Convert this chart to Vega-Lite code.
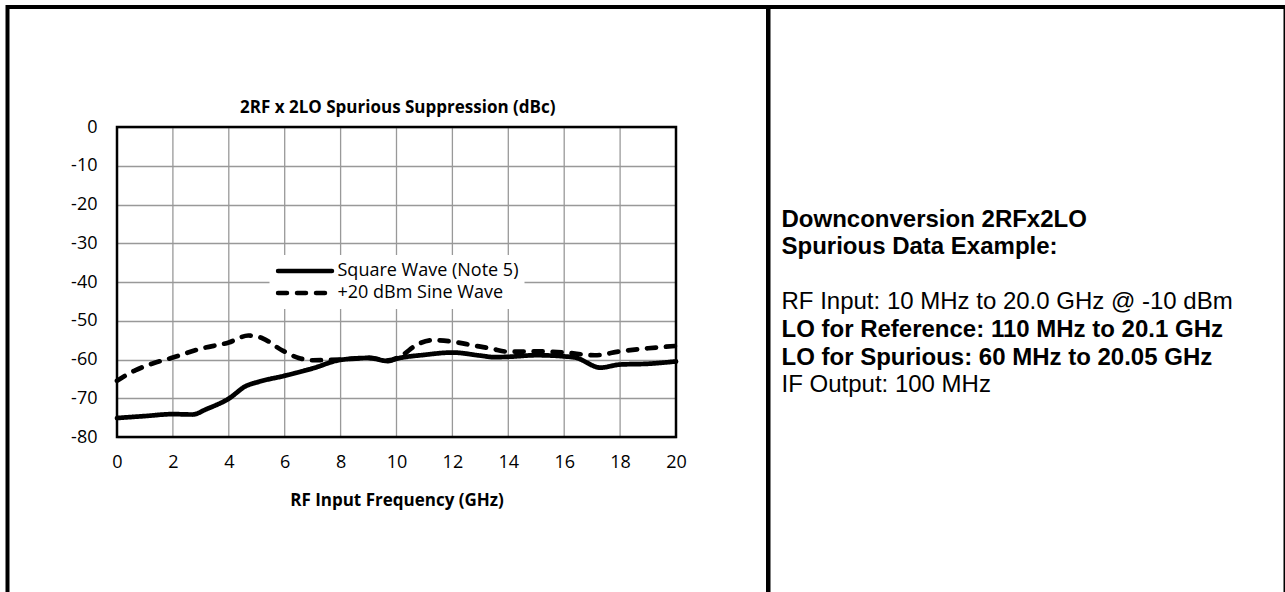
{
  "$schema": "https://vega.github.io/schema/vega-lite/v6.json",
  "padding": {"left": 5.5, "top": 5, "right": 0, "bottom": 0},
  "background": "white",
  "bounds": "flush",
  "spacing": 0,
  "config": {
    "view": {"stroke": "black", "strokeWidth": 4},
    "font": "Open Sans"
  },
  "hconcat": [
    {
      "width": 760.5,
      "height": 588,
      "title": {
        "text": "2RF x 2LO Spurious Suppression (dBc)",
        "font": "Open Sans",
        "fontSize": 17,
        "fontWeight": "bold",
        "color": "black",
        "anchor": "middle",
        "frame": "group",
        "baseline": "middle",
        "offset": -118,
        "dx": 10
      },
      "layer": [
        {
          "data": {
            "values": [
              {"g": 0}, {"g": 2}, {"g": 4}, {"g": 6}, {"g": 8}, {"g": 10},
              {"g": 12}, {"g": 14}, {"g": 16}, {"g": 18}, {"g": 20}
            ]
          },
          "mark": {"type": "rule", "color": "#999999", "strokeWidth": 1.3},
          "encoding": {
            "x": {"field": "g", "type": "quantitative"},
            "y": {"datum": -80, "type": "quantitative"},
            "y2": {"datum": 0}
          }
        },
        {
          "data": {
            "values": [
              {"series": "Square Wave (Note 5)", "freq": 0, "db": -75.1},
              {"series": "Square Wave (Note 5)", "freq": 1, "db": -74.6},
              {"series": "Square Wave (Note 5)", "freq": 2, "db": -74.1},
              {"series": "Square Wave (Note 5)", "freq": 2.7, "db": -74.2},
              {"series": "Square Wave (Note 5)", "freq": 3.2, "db": -72.8},
              {"series": "Square Wave (Note 5)", "freq": 4, "db": -70.1},
              {"series": "Square Wave (Note 5)", "freq": 4.6, "db": -66.9},
              {"series": "Square Wave (Note 5)", "freq": 5.1, "db": -65.7},
              {"series": "Square Wave (Note 5)", "freq": 6, "db": -64.2},
              {"series": "Square Wave (Note 5)", "freq": 7, "db": -62.3},
              {"series": "Square Wave (Note 5)", "freq": 8, "db": -60.1},
              {"series": "Square Wave (Note 5)", "freq": 9, "db": -59.6},
              {"series": "Square Wave (Note 5)", "freq": 9.7, "db": -60.4},
              {"series": "Square Wave (Note 5)", "freq": 10, "db": -59.8},
              {"series": "Square Wave (Note 5)", "freq": 11, "db": -58.8},
              {"series": "Square Wave (Note 5)", "freq": 12, "db": -58.2},
              {"series": "Square Wave (Note 5)", "freq": 13, "db": -59.0},
              {"series": "Square Wave (Note 5)", "freq": 13.5, "db": -59.4},
              {"series": "Square Wave (Note 5)", "freq": 14, "db": -59.3},
              {"series": "Square Wave (Note 5)", "freq": 15, "db": -58.9},
              {"series": "Square Wave (Note 5)", "freq": 16, "db": -59.2},
              {"series": "Square Wave (Note 5)", "freq": 16.4, "db": -59.5},
              {"series": "Square Wave (Note 5)", "freq": 17.3, "db": -62.1},
              {"series": "Square Wave (Note 5)", "freq": 18, "db": -61.3},
              {"series": "Square Wave (Note 5)", "freq": 19, "db": -61.1},
              {"series": "Square Wave (Note 5)", "freq": 20, "db": -60.5},
              {"series": "+20 dBm Sine Wave", "freq": 0, "db": -65.5},
              {"series": "+20 dBm Sine Wave", "freq": 0.65, "db": -62.8},
              {"series": "+20 dBm Sine Wave", "freq": 1.25, "db": -61.1},
              {"series": "+20 dBm Sine Wave", "freq": 2, "db": -59.5},
              {"series": "+20 dBm Sine Wave", "freq": 3, "db": -57.2},
              {"series": "+20 dBm Sine Wave", "freq": 4, "db": -55.6},
              {"series": "+20 dBm Sine Wave", "freq": 4.7, "db": -53.8},
              {"series": "+20 dBm Sine Wave", "freq": 5.2, "db": -54.5},
              {"series": "+20 dBm Sine Wave", "freq": 5.9, "db": -57.6},
              {"series": "+20 dBm Sine Wave", "freq": 6.5, "db": -59.6},
              {"series": "+20 dBm Sine Wave", "freq": 7, "db": -60.2},
              {"series": "+20 dBm Sine Wave", "freq": 8, "db": -60.0},
              {"series": "+20 dBm Sine Wave", "freq": 9, "db": -59.6},
              {"series": "+20 dBm Sine Wave", "freq": 9.7, "db": -60.2},
              {"series": "+20 dBm Sine Wave", "freq": 10.2, "db": -58.9},
              {"series": "+20 dBm Sine Wave", "freq": 10.7, "db": -56.3},
              {"series": "+20 dBm Sine Wave", "freq": 11.3, "db": -55.0},
              {"series": "+20 dBm Sine Wave", "freq": 12, "db": -55.4},
              {"series": "+20 dBm Sine Wave", "freq": 12.7, "db": -56.3},
              {"series": "+20 dBm Sine Wave", "freq": 13.4, "db": -57.2},
              {"series": "+20 dBm Sine Wave", "freq": 14, "db": -58.0},
              {"series": "+20 dBm Sine Wave", "freq": 15, "db": -57.9},
              {"series": "+20 dBm Sine Wave", "freq": 16, "db": -58.2},
              {"series": "+20 dBm Sine Wave", "freq": 17.1, "db": -58.9},
              {"series": "+20 dBm Sine Wave", "freq": 18, "db": -57.9},
              {"series": "+20 dBm Sine Wave", "freq": 19, "db": -57.1},
              {"series": "+20 dBm Sine Wave", "freq": 20, "db": -56.5}
            ]
          },
          "mark": {
            "type": "line",
            "interpolate": "monotone",
            "strokeWidth": 4.7,
            "color": "black",
            "strokeCap": "round"
          },
          "encoding": {
            "x": {
              "field": "freq",
              "type": "quantitative",
              "scale": {"domain": [0, 20], "range": [109.5, 668.5], "nice": false, "zero": false},
              "axis": {
                "orient": "bottom",
                "offset": -158,
                "values": [0, 2, 4, 6, 8, 10, 12, 14, 16, 18, 20],
                "domain": false,
                "ticks": false,
                "grid": false,
                "labelFlush": false,
                "labelOverlap": false,
                "labelPadding": 16,
                "labelFont": "Open Sans",
                "labelFontSize": 18,
                "labelColor": "black",
                "title": "RF Input Frequency (GHz)",
                "titleFont": "Open Sans",
                "titleFontSize": 17,
                "titleFontWeight": "bold",
                "titleColor": "black",
                "titlePadding": 21
              }
            },
            "y": {
              "field": "db",
              "type": "quantitative",
              "scale": {"domain": [-80, 0], "range": [430, 120], "nice": false, "zero": false},
              "axis": {
                "orient": "left",
                "offset": -109.5,
                "values": [-80, -70, -60, -50, -40, -30, -20, -10, 0],
                "labelExpr": "datum.value + ''",
                "domain": false,
                "ticks": false,
                "labelFlush": false,
                "labelOverlap": false,
                "labelPadding": 20,
                "labelFont": "Open Sans",
                "labelFontSize": 18,
                "labelColor": "black",
                "grid": true,
                "gridColor": "#999999",
                "gridWidth": 1.3,
                "title": null
              }
            },
            "strokeDash": {
              "field": "series",
              "type": "nominal",
              "scale": {
                "domain": ["Square Wave (Note 5)", "+20 dBm Sine Wave"],
                "range": [[1, 0], [9, 10]]
              },
              "legend": {
                "orient": "none",
                "legendX": 262,
                "legendY": 248,
                "title": null,
                "fillColor": "white",
                "padding": 6,
                "symbolType": "stroke",
                "symbolSize": 2916,
                "symbolStrokeWidth": 4.5,
                "symbolStrokeColor": "black",
                "clipHeight": 20,
                "rowPadding": 2,
                "labelOffset": 3,
                "labelFont": "Open Sans",
                "labelFontSize": 18,
                "labelColor": "black",
                "labelLimit": 400,
                "encode": {"symbols": {"update": {"strokeCap": {"value": "round"}}}}
              }
            }
          }
        },
        {
          "data": {"values": [{}]},
          "mark": {"type": "rect", "fill": null, "stroke": "black", "strokeWidth": 2.5},
          "encoding": {
            "x": {"datum": 0, "type": "quantitative"},
            "x2": {"datum": 20},
            "y": {"datum": -80, "type": "quantitative"},
            "y2": {"datum": 0}
          }
        }
      ]
    },
    {
      "width": 517,
      "height": 588,
      "layer": [
        {
          "data": {
            "values": [
              {"line": 0, "text": "Downconversion 2RFx2LO"},
              {"line": 1, "text": "Spurious Data Example:"},
              {"line": 4, "text": "LO for Reference: 110 MHz to 20.1 GHz"},
              {"line": 5, "text": "LO for Spurious: 60 MHz to 20.05 GHz"}
            ]
          },
          "mark": {
            "type": "text",
            "align": "left",
            "baseline": "middle",
            "font": "Liberation Sans",
            "fontSize": 24,
            "fontWeight": "bold",
            "color": "black",
            "dx": 13
          },
          "encoding": {
            "x": {"value": 0},
            "y": {
              "field": "line",
              "type": "quantitative",
              "scale": {"domain": [-7.745, 13.636], "reverse": true, "nice": false, "zero": false},
              "axis": null
            },
            "text": {"field": "text"}
          }
        },
        {
          "data": {
            "values": [
              {"line": 3, "text": "RF Input: 10 MHz to 20.0 GHz @ -10 dBm"},
              {"line": 6, "text": "IF Output: 100 MHz"}
            ]
          },
          "mark": {
            "type": "text",
            "align": "left",
            "baseline": "middle",
            "font": "Liberation Sans",
            "fontSize": 24,
            "fontWeight": "normal",
            "color": "black",
            "dx": 13
          },
          "encoding": {
            "x": {"value": 0},
            "y": {"field": "line", "type": "quantitative"},
            "text": {"field": "text"}
          }
        }
      ]
    }
  ]
}
